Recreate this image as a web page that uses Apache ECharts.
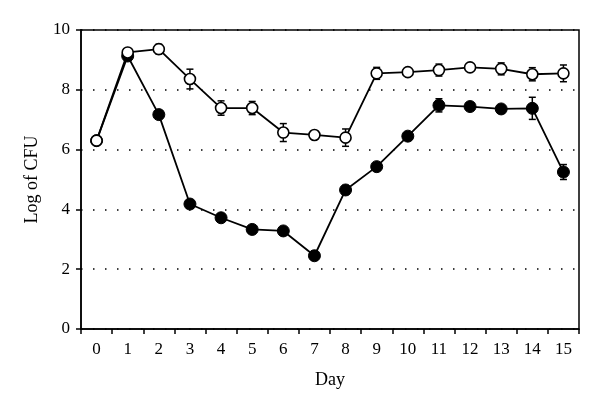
<!DOCTYPE html>
<html>
<head>
<meta charset="utf-8">
<script src="https://cdn.jsdelivr.net/npm/echarts@6/dist/echarts.min.js"></script>
<style>
  html, body { margin: 0; padding: 0; background: #fff; }
  #myChart { width: 600px; height: 413px; }
</style>
</head>
<body>
<div id="myChart"></div>
<script>
// days on the x axis
const days = ["0", "1", "2", "3", "4", "5", "6", "7", "8", "9", "10", "11", "12", "13", "14", "15"];

// open circles
const openVals = [6.30, 9.25, 9.36, 8.36, 7.39, 7.39, 6.57, 6.49, 6.40, 8.55, 8.59, 8.66, 8.75, 8.70, 8.52, 8.55];
const openErr = [0.05, 0.05, 0.16, 0.33, 0.24, 0.22, 0.30, 0.13, 0.29, 0.20, 0.10, 0.20, 0.10, 0.20, 0.22, 0.28];

// filled circles
const filledVals = [6.30, 9.13, 7.17, 4.18, 3.72, 3.33, 3.28, 2.45, 4.65, 5.43, 6.45, 7.48, 7.44, 7.36, 7.38, 5.25];
const filledErr = [0.05, 0.05, 0.10, 0.10, 0.08, 0.08, 0.08, 0.15, 0.15, 0.10, 0.10, 0.22, 0.12, 0.10, 0.37, 0.25];

const yTicks = [0, 2, 4, 6, 8, 10];

function errData(vals, errs) {
  return vals.map((v, i) => [i, v - errs[i], v + errs[i]]);
}

function errorBar(params, api) {
  const lo = api.coord([api.value(0), api.value(1)]);
  const hi = api.coord([api.value(0), api.value(2)]);
  const w = 3.5;
  const style = { stroke: "#000", lineWidth: 1.5 };
  return {
    type: "group",
    children: [
      { type: "line", shape: { x1: lo[0], y1: lo[1], x2: hi[0], y2: hi[1] }, style },
      { type: "line", shape: { x1: lo[0] - w, y1: lo[1], x2: lo[0] + w, y2: lo[1] }, style },
      { type: "line", shape: { x1: hi[0] - w, y1: hi[1], x2: hi[0] + w, y2: hi[1] }, style }
    ]
  };
}

const font = "Liberation Serif";
const chart = echarts.init(document.getElementById("myChart"));

const options = {
  animation: false,
  grid: {
    left: 81,
    right: 21,
    top: 30,
    bottom: 84,
    show: true,
    borderColor: "#000",
    borderWidth: 1.5
  },
  xAxis: {
    type: "category",
    data: days,
    boundaryGap: true,
    name: "Day",
    nameLocation: "middle",
    nameGap: 42,
    nameTextStyle: { fontFamily: font, fontSize: 18, color: "#000" },
    axisLine: { lineStyle: { color: "#000", width: 1.5 } },
    axisTick: { show: true, length: 5, lineStyle: { color: "#000", width: 1.5 } },
    axisLabel: { fontFamily: font, fontSize: 17, color: "#000", margin: 12 },
    splitLine: { show: false }
  },
  yAxis: {
    type: "value",
    min: yTicks[0],
    max: yTicks[yTicks.length - 1],
    interval: 2,
    name: "Log of CFU",
    nameLocation: "middle",
    nameGap: 40,
    nameRotate: 90,
    nameTextStyle: { fontFamily: font, fontSize: 18, color: "#000" },
    axisLine: { show: true, lineStyle: { color: "#000", width: 1.5 } },
    axisTick: { show: true, length: 5, lineStyle: { color: "#000", width: 1.5 } },
    axisLabel: { fontFamily: font, fontSize: 17, color: "#000", margin: 11 },
    splitLine: {
      show: true,
      lineStyle: { color: "#000", type: [1.5, 10.5], width: 1.5 }
    }
  },
  series: [
    {
      type: "custom",
      renderItem: errorBar,
      data: errData(filledVals, filledErr),
      z: 2
    },
    {
      type: "line",
      data: filledVals,
      symbol: "circle",
      symbolSize: 12,
      showSymbol: true,
      lineStyle: { color: "#000", width: 1.8 },
      itemStyle: { color: "#000", borderColor: "#000", borderWidth: 1 },
      z: 3
    },
    {
      type: "custom",
      renderItem: errorBar,
      data: errData(openVals, openErr),
      z: 4
    },
    {
      type: "line",
      data: openVals,
      symbol: "circle",
      symbolSize: 11,
      showSymbol: true,
      lineStyle: { color: "#000", width: 1.8 },
      itemStyle: { color: "#fff", borderColor: "#000", borderWidth: 1.6 },
      z: 5
    }
  ]
};

chart.setOption(options);
</script>
</body>
</html>
